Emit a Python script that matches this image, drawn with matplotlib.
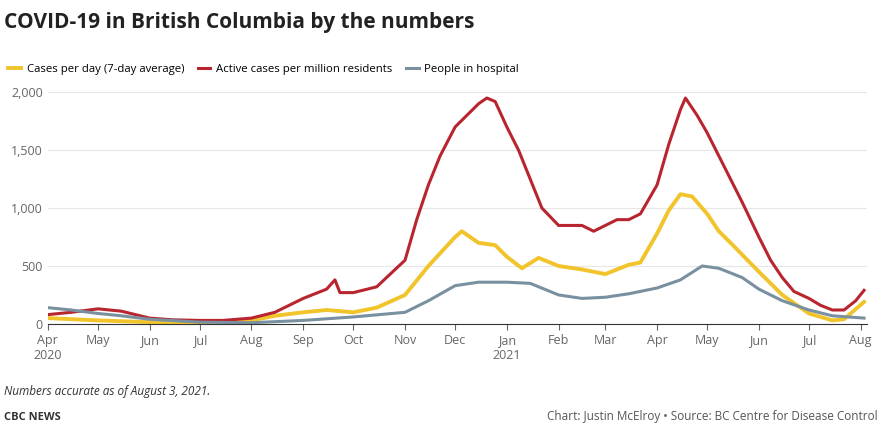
import matplotlib
matplotlib.use("Agg")
import matplotlib.pyplot as plt
import matplotlib.dates as mdates
import pandas as pd

plt.rcParams["font.family"] = ["Open Sans", "DejaVu Sans"]

active_dates = ["2020-04-01", "2020-04-15", "2020-05-01", "2020-05-15", "2020-06-01", "2020-06-15",
                "2020-07-01", "2020-07-15", "2020-08-01", "2020-08-15", "2020-09-01", "2020-09-15",
                "2020-09-20", "2020-09-23", "2020-10-01", "2020-10-15", "2020-11-01", "2020-11-08",
                "2020-11-15", "2020-11-22", "2020-12-01", "2020-12-08", "2020-12-15", "2020-12-20",
                "2020-12-25", "2021-01-01", "2021-01-08", "2021-01-15", "2021-01-22", "2021-02-01",
                "2021-02-08", "2021-02-15", "2021-02-22", "2021-03-01", "2021-03-08", "2021-03-15",
                "2021-03-22", "2021-04-01", "2021-04-08", "2021-04-15", "2021-04-18", "2021-04-25",
                "2021-05-01", "2021-05-08", "2021-05-15", "2021-05-22", "2021-06-01", "2021-06-08",
                "2021-06-15", "2021-06-22", "2021-07-01", "2021-07-08", "2021-07-15", "2021-07-22",
                "2021-07-29", "2021-08-03"]
active_vals = [80, 100, 130, 110, 50, 35, 30, 30, 50, 100, 220, 300, 380, 270, 270, 320, 550, 900,
               1200, 1450, 1700, 1800, 1900, 1950, 1920, 1700, 1500, 1250, 1000, 850, 850, 850, 800,
               850, 900, 900, 950, 1200, 1550, 1850, 1950, 1800, 1650, 1450, 1250, 1050, 750, 550,
               400, 280, 220, 160, 120, 120, 200, 290]

cases_dates = ["2020-04-01", "2020-05-01", "2020-06-01", "2020-07-01", "2020-08-01", "2020-08-15",
               "2020-09-01", "2020-09-15", "2020-10-01", "2020-10-15", "2020-11-01", "2020-11-15",
               "2020-12-01", "2020-12-05", "2020-12-15", "2020-12-25", "2021-01-01", "2021-01-10",
               "2021-01-20", "2021-02-01", "2021-02-15", "2021-03-01", "2021-03-15", "2021-03-22",
               "2021-04-01", "2021-04-08", "2021-04-15", "2021-04-22", "2021-05-01", "2021-05-08",
               "2021-05-15", "2021-06-01", "2021-06-15", "2021-07-01", "2021-07-15", "2021-07-22",
               "2021-08-03"]
cases_vals = [50, 30, 15, 15, 30, 70, 100, 120, 100, 140, 250, 500, 750, 800, 700, 680, 580, 480,
              570, 500, 470, 430, 510, 530, 780, 980, 1120, 1100, 950, 800, 700, 450, 250, 90, 30,
              40, 190]

hosp_dates = ["2020-04-01", "2020-04-15", "2020-05-01", "2020-05-15", "2020-06-01", "2020-07-01",
              "2020-08-01", "2020-09-01", "2020-10-01", "2020-11-01", "2020-11-15", "2020-12-01",
              "2020-12-15", "2021-01-01", "2021-01-15", "2021-02-01", "2021-02-15", "2021-03-01",
              "2021-03-15", "2021-04-01", "2021-04-15", "2021-04-28", "2021-05-08", "2021-05-22",
              "2021-06-01", "2021-06-15", "2021-07-01", "2021-07-15", "2021-08-03"]
hosp_vals = [140, 120, 90, 70, 40, 15, 10, 30, 60, 100, 200, 330, 360, 360, 350, 250, 220, 230,
             260, 310, 380, 500, 480, 400, 300, 200, 120, 70, 50]

fig = plt.figure(figsize=(8.86, 4.29), dpi=100)
ax = fig.add_axes([0.054, 0.245, 0.925, 0.54])

ax.plot(pd.to_datetime(cases_dates), cases_vals, color="#f2c42c", lw=2.8, label="Cases per day (7-day average)")
ax.plot(pd.to_datetime(active_dates), active_vals, color="#b8252f", lw=2.2, label="Active cases per million residents")
ax.plot(pd.to_datetime(hosp_dates), hosp_vals, color="#7890a0", lw=2.2, label="People in hospital")

ax.set_ylim(0, 2000)
ax.set_xlim(pd.Timestamp("2020-04-01"), pd.Timestamp("2021-08-05"))
ax.set_yticks([0, 500, 1000, 1500, 2000])
ax.set_yticklabels(["0", "500", "1,000", "1,500", "2,000"])
ax.grid(axis="y", color="#e6e6e6", lw=0.8)
ax.set_axisbelow(True)
for s in ["top", "right", "left"]:
    ax.spines[s].set_visible(False)
ax.spines["bottom"].set_color("#333333")
ax.tick_params(axis="y", length=0, labelsize=9, colors="#666666")
ax.tick_params(axis="x", labelsize=9, colors="#666666", length=4)
ticks = pd.date_range("2020-04-01", "2021-08-01", freq="MS")
labels = []
for t in ticks:
    lab = t.strftime("%b")
    if t.month == 1 or t == ticks[0]:
        lab += "\n" + t.strftime("%Y")
    labels.append(lab)
ax.set_xticks(ticks)
ax.set_xticklabels(labels)

fig.text(0.005, 0.935, "COVID-19 in British Columbia by the numbers", fontsize=15, fontweight="bold", color="#222222")
fig.legend(loc="upper left", bbox_to_anchor=(-0.002, 0.875), ncol=3, frameon=False, fontsize=8.2,
           handlelength=1.1, columnspacing=1.2, handletextpad=0.5)
fig.text(0.005, 0.08, "Numbers accurate as of August 3, 2021.", fontsize=8.5, style="italic", color="#333333")
fig.text(0.005, 0.02, "CBC NEWS", fontsize=8, fontweight="bold", color="#333333")
fig.text(0.99, 0.02, "Chart: Justin McElroy • Source: BC Centre for Disease Control", fontsize=8.5,
         color="#555555", ha="right")

fig.savefig("out.png", dpi=100)
